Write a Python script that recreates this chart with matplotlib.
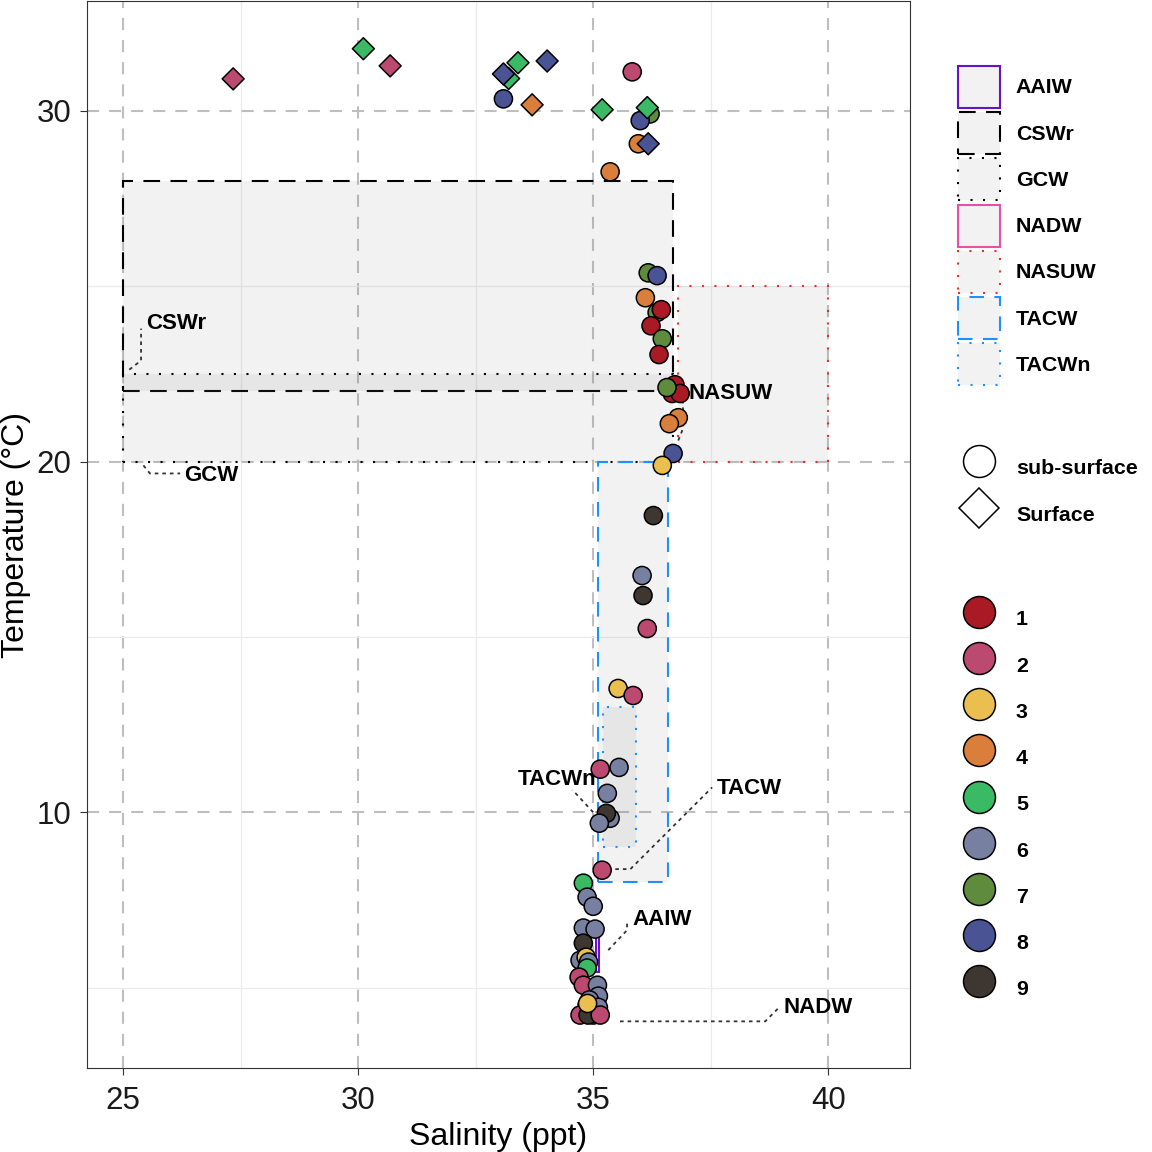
import matplotlib
matplotlib.use("Agg")
import matplotlib.pyplot as plt
from matplotlib.patches import Rectangle, Patch
from matplotlib.lines import Line2D
from matplotlib.ticker import MultipleLocator

plt.rcParams["font.family"] = ["Liberation Sans", "DejaVu Sans"]

# water mass boxes
box_names = ["AAIW", "CSWr", "GCW", "NADW", "NASUW", "TACW", "TACWn"]
box_sal_min = [35.05, 25.0, 25.0, 34.95, 36.8, 35.1, 35.2]
box_sal_max = [35.12, 36.7, 36.7, 35.05, 40.0, 36.6, 35.9]
box_temp_min = [5.45, 22.0, 20.0, 4.1, 20.0, 8.0, 9.0]
box_temp_max = [6.45, 28.0, 22.5, 4.3, 25.0, 20.0, 13.0]

# label positions (left edge, centre) and leader paths
lab_sal = [35.83, 25.49, 26.30, 39.04, 37.02, 37.62, 33.40]
lab_temp = [6.95, 23.93, 19.60, 4.44, 21.94, 10.68, 10.94]
lead_sal = [[35.32, 35.72, 35.72], [25.13, 25.38, 25.38], [25.43, 25.57, 26.21],
            [35.57, 38.66, 38.98], [36.81, 36.91, 36.91], [35.47, 35.79, 37.53],
            [35.00, 34.62, 34.55]]
lead_temp = [[6.07, 6.64, 6.92], [22.62, 22.88, 23.79], [19.89, 19.66, 19.66],
             [4.04, 4.04, 4.47], [20.60, 20.94, 21.74], [8.38, 8.38, 10.71],
             [10.00, 10.55, 10.63]]

# surface samples (diamonds)
surf_sal = [27.34, 30.11, 30.68, 33.20, 33.09, 33.40, 34.02, 33.70, 35.19, 36.17, 36.15]
surf_temp = [30.91, 31.77, 31.28, 30.92, 31.05, 31.37, 31.42, 30.17, 30.03, 29.06, 30.09]
surf_grp = [2, 5, 2, 5, 8, 5, 8, 4, 5, 8, 5]

# sub-surface samples (circles)
sub_sal = [35.83, 33.09, 36.21, 36.00, 35.96, 35.36,
           36.17, 36.36, 36.11, 36.36, 36.45, 36.23, 36.47, 36.40,
           36.74, 36.68, 36.85, 36.57, 36.81, 36.62, 36.70, 36.47,
           36.28, 36.04, 36.06, 36.15, 35.53, 35.85,
           35.15, 35.55, 35.30, 35.36, 35.28, 35.13, 35.19,
           34.79, 34.87, 35.00, 34.79, 35.04, 34.79,
           34.72, 34.85, 34.90, 34.87, 34.70, 34.79, 35.09, 35.11, 34.92,
           34.87, 35.11, 34.72, 35.00, 34.89, 35.15, 34.88]
sub_temp = [31.11, 30.34, 29.91, 29.72, 29.06, 28.26,
            25.38, 25.30, 24.67, 24.25, 24.33, 23.87, 23.50, 23.05,
            22.19, 21.94, 21.94, 22.11, 21.25, 21.08, 20.23, 19.89,
            18.46, 16.75, 16.18, 15.24, 13.53, 13.33,
            11.23, 11.28, 10.54, 9.83, 9.97, 9.69, 8.35,
            7.98, 7.58, 7.32, 6.70, 6.67, 6.27,
            5.78, 5.87, 5.73, 5.56, 5.30, 5.07, 5.07, 4.76, 4.65,
            4.50, 4.44, 4.22, 4.22, 4.22, 4.22, 4.55]
sub_grp = [2, 8, 7, 8, 4, 4,
           7, 8, 4, 7, 1, 1, 7, 1,
           1, 1, 1, 7, 4, 4, 8, 3,
           9, 6, 9, 2, 3, 2,
           2, 6, 6, 6, 9, 6, 2,
           5, 6, 6, 6, 6, 9,
           6, 3, 6, 5, 2, 2, 6, 6, 6,
           3, 6, 2, 6, 9, 2, 3]

group_colors = {1: "#AA1A24", 2: "#BC4A70", 3: "#EABE4F", 4: "#D97F3B", 5: "#3BBA66",
                6: "#7880A2", 7: "#5E8C3C", 8: "#4A5495", 9: "#3E3631"}

box_edge = ["#6611CC", "black", "black", "#EA4FA6", "#E8312A", "#1E90FF", "#1E90FF"]
box_ls = ["-", (0, (8, 5)), (0, (1, 5)), "-", (0, (1, 5)), (0, (7, 5)), (0, (1, 5))]

fig = plt.figure(figsize=(11.52, 11.52), dpi=100)
ax = fig.add_axes([87 / 1152, 1 - 1068 / 1152, 823 / 1152, 1067 / 1152])

for i, name in enumerate(box_names):
    ax.add_patch(Rectangle((box_sal_min[i], box_temp_min[i]),
                           box_sal_max[i] - box_sal_min[i],
                           box_temp_max[i] - box_temp_min[i],
                           facecolor=(0.5, 0.5, 0.5, 0.1), edgecolor=box_edge[i],
                           linestyle=box_ls[i], linewidth=1.5, zorder=2))

for i, name in enumerate(box_names):
    ax.plot(lead_sal[i], lead_temp[i], color="#333333", lw=1.3,
            linestyle=(0, (2, 2.2)), zorder=3)
    ax.text(lab_sal[i], lab_temp[i], name, fontsize=16, fontweight="bold",
            ha="left", va="center", zorder=3)

ax.scatter(sub_sal, sub_temp, s=170, marker="o",
           c=[group_colors[g] for g in sub_grp], edgecolors="black",
           linewidths=1.1, zorder=4)
ax.scatter(surf_sal, surf_temp, s=125, marker="D",
           c=[group_colors[g] for g in surf_grp], edgecolors="black",
           linewidths=1.1, zorder=4)

ax.set_xlim(24.23, 41.74)
ax.set_ylim(2.71, 33.13)
ax.xaxis.set_major_locator(MultipleLocator(5))
ax.yaxis.set_major_locator(MultipleLocator(10))
ax.xaxis.set_minor_locator(MultipleLocator(2.5))
ax.yaxis.set_minor_locator(MultipleLocator(5))
ax.set_axisbelow(True)
ax.grid(which="major", color="#BEBEBE", lw=1.5, linestyle=(0, (5.8, 4.8)))
ax.grid(which="minor", color="#EBEBEB", lw=0.9)
ax.tick_params(which="major", length=5, width=0.8, color="#333333",
               labelsize=22.5, labelcolor="#1A1A1A")
ax.tick_params(axis="x", which="major", pad=8)
ax.tick_params(axis="y", which="major", pad=6)
ax.tick_params(which="minor", length=0)
for sp in ax.spines.values():
    sp.set_color("#333333")
    sp.set_linewidth(0.8)
ax.set_xlabel("Salinity (ppt)", fontsize=23, labelpad=4)
ax.set_ylabel("Temperature (°C)", fontsize=23, labelpad=4)

# legends
leg_fs = 15.4
fill_handles = [Patch(facecolor=(0.5, 0.5, 0.5, 0.1), edgecolor=box_edge[i],
                      linestyle=box_ls[i], linewidth=1.5, label=n)
                for i, n in enumerate(box_names)]
leg_kw = dict(frameon=False, borderpad=0, borderaxespad=0, handletextpad=0.75,
              loc="upper left", prop={"weight": "bold", "size": leg_fs},
              handlelength=1.96, handleheight=2.64)
l1 = fig.legend(handles=fill_handles, bbox_to_anchor=(958 / 1152, 1 - 66 / 1152),
                labelspacing=0.2, **leg_kw)

shape_handles = [
    Line2D([], [], marker="o", color="none", markerfacecolor="white",
           markeredgecolor="black", markersize=23, markeredgewidth=1.1, label="sub-surface"),
    Line2D([], [], marker="D", color="none", markerfacecolor="white",
           markeredgecolor="black", markersize=20.4, markeredgewidth=1.1, label="Surface"),
]
l2 = fig.legend(handles=shape_handles, bbox_to_anchor=(958 / 1152, 1 - 447 / 1152),
                labelspacing=0.23, **leg_kw)

color_handles = [Line2D([], [], marker="o", color="none", markerfacecolor=group_colors[g],
                        markeredgecolor="black", markersize=23, markeredgewidth=1.1,
                        label=str(g)) for g in range(1, 10)]
l3 = fig.legend(handles=color_handles, bbox_to_anchor=(958 / 1152, 1 - 598 / 1152),
                labelspacing=0.2, **leg_kw)

fig.savefig("out.png", dpi=100)
